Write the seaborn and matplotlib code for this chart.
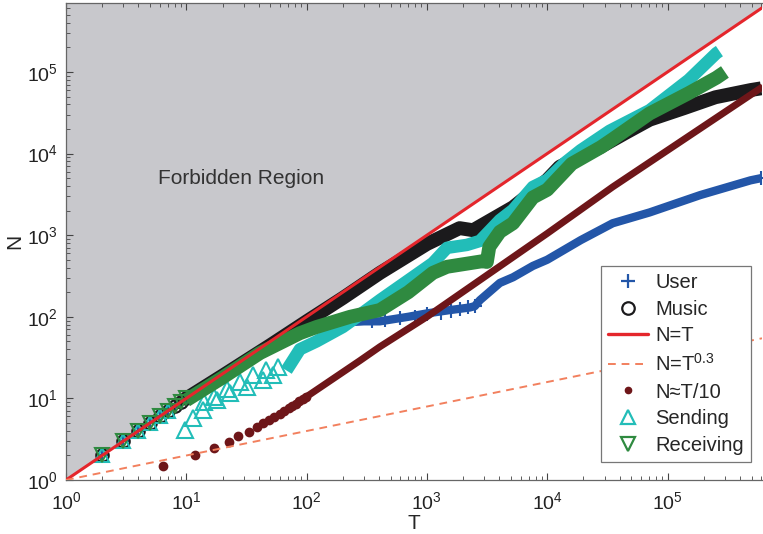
import matplotlib
matplotlib.use("Agg")
import matplotlib.pyplot as plt
import seaborn as sns
from matplotlib.lines import Line2D

# axis range (log-log)
x_max = 6.1e5
y_max = 7.0e5

# reference lines
t_ref = [1, x_max]
n_eq = [1, x_max]
n_pow = [1, 54.5]

# small-T points that sit on the diagonal
t_diag = [2, 3, 4, 5, 6, 7, 8, 9, 10]
n_diag = [2, 3, 4, 5, 6, 7, 8, 9, 10]

# User
t_user = [10, 20, 50, 100, 200, 300, 407, 700, 1000, 1500, 2270, 2500, 2760,
          4040, 5200, 7600, 1.0e4, 1.9e4, 3.5e4, 7.1e4, 1.87e5, 4.9e5, 6.0e5]
n_user = [10, 18, 40, 70, 85, 88, 88, 100, 110, 120, 130, 135, 160,
          260, 305, 420, 500, 870, 1400, 1900, 3100, 4700, 5000]
t_user_pts = [350, 450, 600, 800, 1000, 1300, 1600, 1900, 2200, 2500, 6.0e5]
n_user_pts = [88, 92, 96, 100, 108, 112, 118, 124, 130, 136, 5000]

# Music
t_music = [10, 20, 50, 100, 200, 407, 1000, 1870, 2420, 5200, 1.0e4, 1.27e4,
           2.76e4, 4.5e4, 7.1e4, 1.37e5, 2.5e5, 4.9e5, 6.0e5]
n_music = [10, 19, 45, 88, 170, 345, 780, 1220, 1150, 2200, 4760, 6900,
           1.2e4, 1.8e4, 2.6e4, 3.6e4, 4.9e4, 6.0e4, 6.3e4]

# Sending: separate triangles at small T, then a dense band
t_send_pts = [9.8, 11.4, 13.8, 18, 23, 32, 43, 53, 14, 17, 22, 28, 36, 46, 58]
n_send_pts = [4.1, 5.75, 7.2, 9.5, 11.6, 13.8, 16.8, 19.3, 9, 10.5, 13, 16, 19.5, 22, 24]
t_send = [68, 88, 121, 200, 300, 407, 700, 1120, 1470, 2150, 2760, 4040, 5200,
          7600, 1.0e4, 1.4e4, 1.9e4, 3.3e4, 7.1e4, 1.5e5, 2.55e5, 2.7e5]
n_send = [22, 40, 50, 75, 115, 160, 280, 455, 700, 760, 850, 1530, 2040,
          3900, 4760, 7700, 1.1e4, 1.9e4, 3.4e4, 8.0e4, 1.7e5, 1.8e5]

# Receiving
t_recv = [10, 20, 41, 88, 121, 230, 407, 700, 1120, 1470, 2900, 3150, 3300,
          4040, 5200, 7600, 1.0e4, 1.6e4, 2.8e4, 3.5e4, 7.1e4, 1.5e5, 2.55e5, 3.0e5]
n_recv = [9.5, 18, 36, 63, 75, 100, 121, 200, 345, 410, 480, 470, 720,
          1100, 1400, 2900, 3600, 7500, 1.2e4, 1.5e4, 3.1e4, 5.5e4, 8.5e4, 1.0e5]

# N ~ T/10: individual dots first, then a continuous band
t_tenth_pts = [6.4, 11.8, 17, 22.6, 27, 33, 38.6, 43, 48.6, 54, 60, 65, 71, 76, 82, 87, 93, 98]
n_tenth_pts = [1.5, 2, 2.5, 2.9, 3.45, 3.9, 4.5, 5.0, 5.4, 5.9, 6.5, 7, 7.6, 8.1, 8.6, 9.2, 9.7, 10.3]
t_tenth = [98, 277, 407, 1000, 1.0e4, 3.5e4, 6.2e5]
n_tenth = [10.3, 29, 43, 100, 1050, 3900, 6.6e4]

c_user = "#2356a8"
c_music = "#1b1a1c"
c_eq = "#e4262c"
c_pow = "#f2805e"
c_tenth = "#6e1619"
c_send = "#22bdb8"
c_recv = "#2f8a40"
c_gray = "#c8c8cc"

sns.set_style("ticks")
plt.rcParams["font.family"] = ["Liberation Sans", "DejaVu Sans"]
plt.rcParams["mathtext.fontset"] = "custom"
plt.rcParams["mathtext.rm"] = "Liberation Sans"
plt.rcParams["mathtext.it"] = "Liberation Sans:italic"

fig = plt.figure(figsize=(7.63, 5.34), dpi=100)
ax = fig.add_axes([66 / 763, 54 / 534, 696 / 763, 477 / 534])
ax.set_xscale("log")
ax.set_yscale("log")

ax.fill_between(t_ref, n_eq, y_max, color=c_gray, lw=0, zorder=0)

def band(t, n, c, lw, z):
    sns.lineplot(x=t, y=n, ax=ax, color=c, lw=lw, estimator=None, sort=False,
                 solid_capstyle="butt", zorder=z)

def pts(t, n, c, m, ms, z, hollow=True):
    sns.lineplot(x=t, y=n, ax=ax, color=c, marker=m, linestyle="", ms=ms,
                 mfc="none" if hollow else c, mec=c, mew=1.5,
                 estimator=None, sort=False, zorder=z)

# User
band(t_user, n_user, c_user, 6, 2)
pts(t_diag, n_diag, c_user, "+", 8, 2)
pts(t_user_pts, n_user_pts, c_user, "+", 10, 2)
# Music
band(t_music, n_music, c_music, 10, 3)
pts(t_diag, n_diag, c_music, "o", 9, 3)
# Sending
band(t_send, n_send, c_send, 9, 4)
pts(t_send_pts, n_send_pts, c_send, "^", 11, 4)
pts(t_diag[:6], n_diag[:6], c_send, "^", 10, 4)
# Receiving
band(t_recv, n_recv, c_recv, 10, 5)
pts(t_diag, n_diag, c_recv, "v", 10, 5)
# N ~ T/10
band(t_tenth, n_tenth, c_tenth, 5, 6)
pts(t_tenth_pts, n_tenth_pts, c_tenth, "o", 5.5, 6, hollow=False)
# reference lines
sns.lineplot(x=t_ref, y=n_eq, ax=ax, color=c_eq, lw=2.2, zorder=7)
sns.lineplot(x=t_ref, y=n_pow, ax=ax, color=c_pow, lw=1.4, ls=(0, (4, 3)), zorder=8)

ax.text(5.8, 5000, "Forbidden Region", fontsize=15, color="#333333", va="center")

ax.set_xlim(1, x_max)
ax.set_ylim(1, y_max)
ax.set_xlabel("T", fontsize=15, labelpad=1)
ax.set_ylabel("N", fontsize=15, labelpad=2)
ax.tick_params(which="both", direction="in", top=True, right=False, colors="#444444",
               labelcolor="#222222")
ax.tick_params(which="major", length=5, labelsize=14)
ax.tick_params(axis="x", which="major", pad=8)
ax.tick_params(axis="y", which="major", pad=6)
ax.tick_params(which="minor", length=3)
for s in ["left", "bottom", "top"]:
    ax.spines[s].set_color("#666666")
    ax.spines[s].set_linewidth(0.9)
ax.spines["right"].set_visible(False)

handles = [
    Line2D([], [], color=c_user, marker="+", ls="", ms=10, mew=1.6),
    Line2D([], [], color=c_music, marker="o", ls="", ms=9, mfc="none", mew=1.6),
    Line2D([], [], color=c_eq, lw=2.4),
    Line2D([], [], color=c_pow, lw=1.4, ls=(0, (4, 3))),
    Line2D([], [], color=c_tenth, marker="o", ls="", ms=4.5),
    Line2D([], [], color=c_send, marker="^", ls="", ms=10, mfc="none", mew=1.6),
    Line2D([], [], color=c_recv, marker="v", ls="", ms=10, mfc="none", mew=1.6),
]
labels = ["User", "Music", "N=T", "N=T$^{0.3}$", "N≈T/10", "Sending", "Receiving"]
leg = ax.legend(handles, labels, loc="lower right", bbox_to_anchor=(0.984, 0.038),
                borderaxespad=0, fontsize=14.5, frameon=True, fancybox=False,
                framealpha=1, edgecolor="#777777", handlelength=2.0,
                handletextpad=0.35, labelspacing=0.38, borderpad=0.35)
leg.get_frame().set_linewidth(0.9)
leg.set_zorder(10)

fig.savefig("out.png", dpi=100)
